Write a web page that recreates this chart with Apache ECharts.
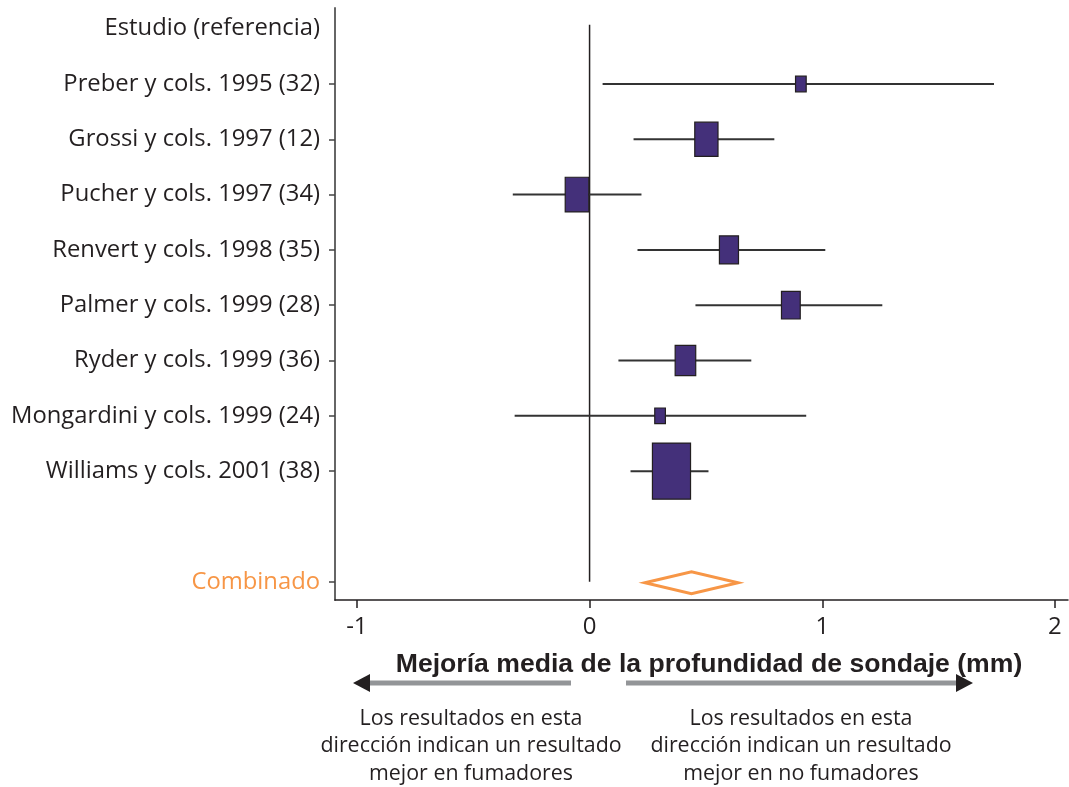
<!DOCTYPE html>
<html>
<head>
<meta charset="utf-8">
<title>Forest plot</title>
<script src="https://cdn.jsdelivr.net/npm/echarts@6/dist/echarts.min.js"></script>
<style>
    html, body { margin: 0; padding: 0; background: #fff; }
    #chart { width: 1069px; height: 787px; }
</style>
</head>
<body>
<div id="chart"></div>
<script>
// datos
var header = 'Estudio (referencia)';
var studies = [
    'Preber y cols. 1995 (32)',
    'Grossi y cols. 1997 (12)',
    'Pucher y cols. 1997 (34)',
    'Renvert y cols. 1998 (35)',
    'Palmer y cols. 1999 (28)',
    'Ryder y cols. 1999 (36)',
    'Mongardini y cols. 1999 (24)',
    'Williams y cols. 2001 (38)'
];
var meanDiff = [0.908, 0.502, -0.054, 0.599, 0.865, 0.412, 0.303, 0.352];
var ciLow    = [0.056, 0.189, -0.330, 0.206, 0.455, 0.124, -0.322, 0.176];
var ciHigh   = [1.738, 0.794, 0.223, 1.013, 1.258, 0.695, 0.931, 0.511];
var weights  = [2.9, 13.8, 14.2, 9.3, 9.0, 10.8, 2.9, 37.1];   // peso %
var pooledLabel = 'Combinado';
var pooled = [0.238, 0.438, 0.638];   // IC inferior, media, IC superior
var xTicks = [-1, 0, 1, 2];

var pooledRow = studies.length + 2;
var labelFont = '"Open Sans", Lato, sans-serif';

var studyRows = studies.map(function (s, i) {
    return [ciLow[i], meanDiff[i], ciHigh[i], i + 1, weights[i]];
});

function renderStudy(params, api) {
    var lo = api.coord([api.value(0), api.value(3)]);
    var mid = api.coord([api.value(1), api.value(3)]);
    var hi = api.coord([api.value(2), api.value(3)]);
    var h = Math.sqrt(api.value(4)) * 9.2;
    var w = h * 0.68;
    return {
        type: 'group',
        children: [
            {
                type: 'line',
                shape: { x1: lo[0], y1: lo[1], x2: hi[0], y2: hi[1] },
                style: { stroke: '#333', lineWidth: 2 }
            },
            {
                type: 'rect',
                shape: { x: mid[0] - w / 2, y: mid[1] - h / 2, width: w, height: h },
                style: { fill: '#44307a', stroke: '#231f20', lineWidth: 1.2 }
            }
        ]
    };
}

function renderPooled(params, api) {
    var lo = api.coord([api.value(0), api.value(3)]);
    var mid = api.coord([api.value(1), api.value(3)]);
    var hi = api.coord([api.value(2), api.value(3)]);
    var hh = 11;
    return {
        type: 'polygon',
        shape: { points: [[lo[0], mid[1] + 1], [mid[0], mid[1] - hh + 1], [hi[0], mid[1] + 1], [mid[0], mid[1] + hh + 1]] },
        style: { fill: '#fff', stroke: '#f79646', lineWidth: 3 }
    };
}

var rowLabels = [0].concat(studies.map(function (s, i) { return i + 1; }), [pooledRow]);
var rowTicks = studies.map(function (s, i) { return i + 1; }).concat([pooledRow]);

var option = {
    animation: false,
    textStyle: { fontFamily: labelFont },
    grid: { left: 335, right: 1, top: 8, bottom: 187 },
    title: {
        text: 'Mejoría media de la profundidad de sondaje (mm)',
        left: 704,
        top: 646,
        textAlign: 'center',
        textStyle: {
            fontFamily: '"Liberation Sans", Arial, sans-serif',
            fontWeight: 'bold',
            fontSize: 26.6,
            color: '#231f20'
        }
    },
    xAxis: {
        type: 'value',
        min: -1.094,
        max: 2.056,
        axisLine: { onZero: false, lineStyle: { color: '#231f20', width: 1.5 } },
        axisTick: { show: true, length: 8, customValues: xTicks, lineStyle: { color: '#231f20', width: 1.5 } },
        axisLabel: {
            customValues: xTicks,
            margin: 15,
            fontSize: 24,
            color: '#231f20',
            fontFamily: labelFont
        },
        splitLine: { show: false }
    },
    yAxis: {
        type: 'value',
        inverse: true,
        min: -0.374,
        max: 10.33,
        axisLine: { show: true, onZero: false, lineStyle: { color: '#666', width: 2 } },
        axisTick: { show: true, length: 6, customValues: rowTicks, lineStyle: { color: '#444', width: 1.5 } },
        axisLabel: {
            customValues: rowLabels,
            margin: 15,
            fontSize: 23.8,
            color: '#231f20',
            fontFamily: labelFont,
            formatter: function (v) {
                if (v === 0) return header;
                if (v === pooledRow) return '{p|' + pooledLabel + '}';
                return studies[v - 1];
            },
            rich: {
                p: { color: '#f79646', fontSize: 23.8, fontFamily: labelFont }
            }
        },
        splitLine: { show: false }
    },
    series: [
        {
            // linea de no efecto
            type: 'line',
            data: [[0, -0.07], [0, pooledRow]],
            symbol: 'none',
            lineStyle: { color: '#231f20', width: 1.5 },
            z: 1
        },
        {
            type: 'custom',
            renderItem: renderStudy,
            data: studyRows,
            z: 3
        },
        {
            type: 'custom',
            renderItem: renderPooled,
            data: [[pooled[0], pooled[1], pooled[2], pooledRow]],
            z: 3
        }
    ],
    graphic: [
        { type: 'line', shape: { x1: 369, y1: 683, x2: 571, y2: 683 }, style: { stroke: '#939598', lineWidth: 5 } },
        { type: 'polygon', shape: { points: [[353, 683], [370, 674], [370, 692]] }, style: { fill: '#231f20' } },
        { type: 'line', shape: { x1: 626, y1: 683, x2: 957, y2: 683 }, style: { stroke: '#939598', lineWidth: 5 } },
        { type: 'polygon', shape: { points: [[973, 683], [956, 674], [956, 692]] }, style: { fill: '#231f20' } },
        {
            type: 'text', x: 471, y: 705,
            style: {
                text: 'Los resultados en esta\ndirección indican un resultado\nmejor en fumadores',
                textAlign: 'center', fontSize: 21.4, lineHeight: 27.5,
                fontFamily: labelFont, fill: '#231f20'
            }
        },
        {
            type: 'text', x: 801, y: 705,
            style: {
                text: 'Los resultados en esta\ndirección indican un resultado\nmejor en no fumadores',
                textAlign: 'center', fontSize: 21.4, lineHeight: 27.5,
                fontFamily: labelFont, fill: '#231f20'
            }
        }
    ]
};

var myChart = echarts.init(document.getElementById('chart'));
myChart.setOption(option);
</script>
</body>
</html>
